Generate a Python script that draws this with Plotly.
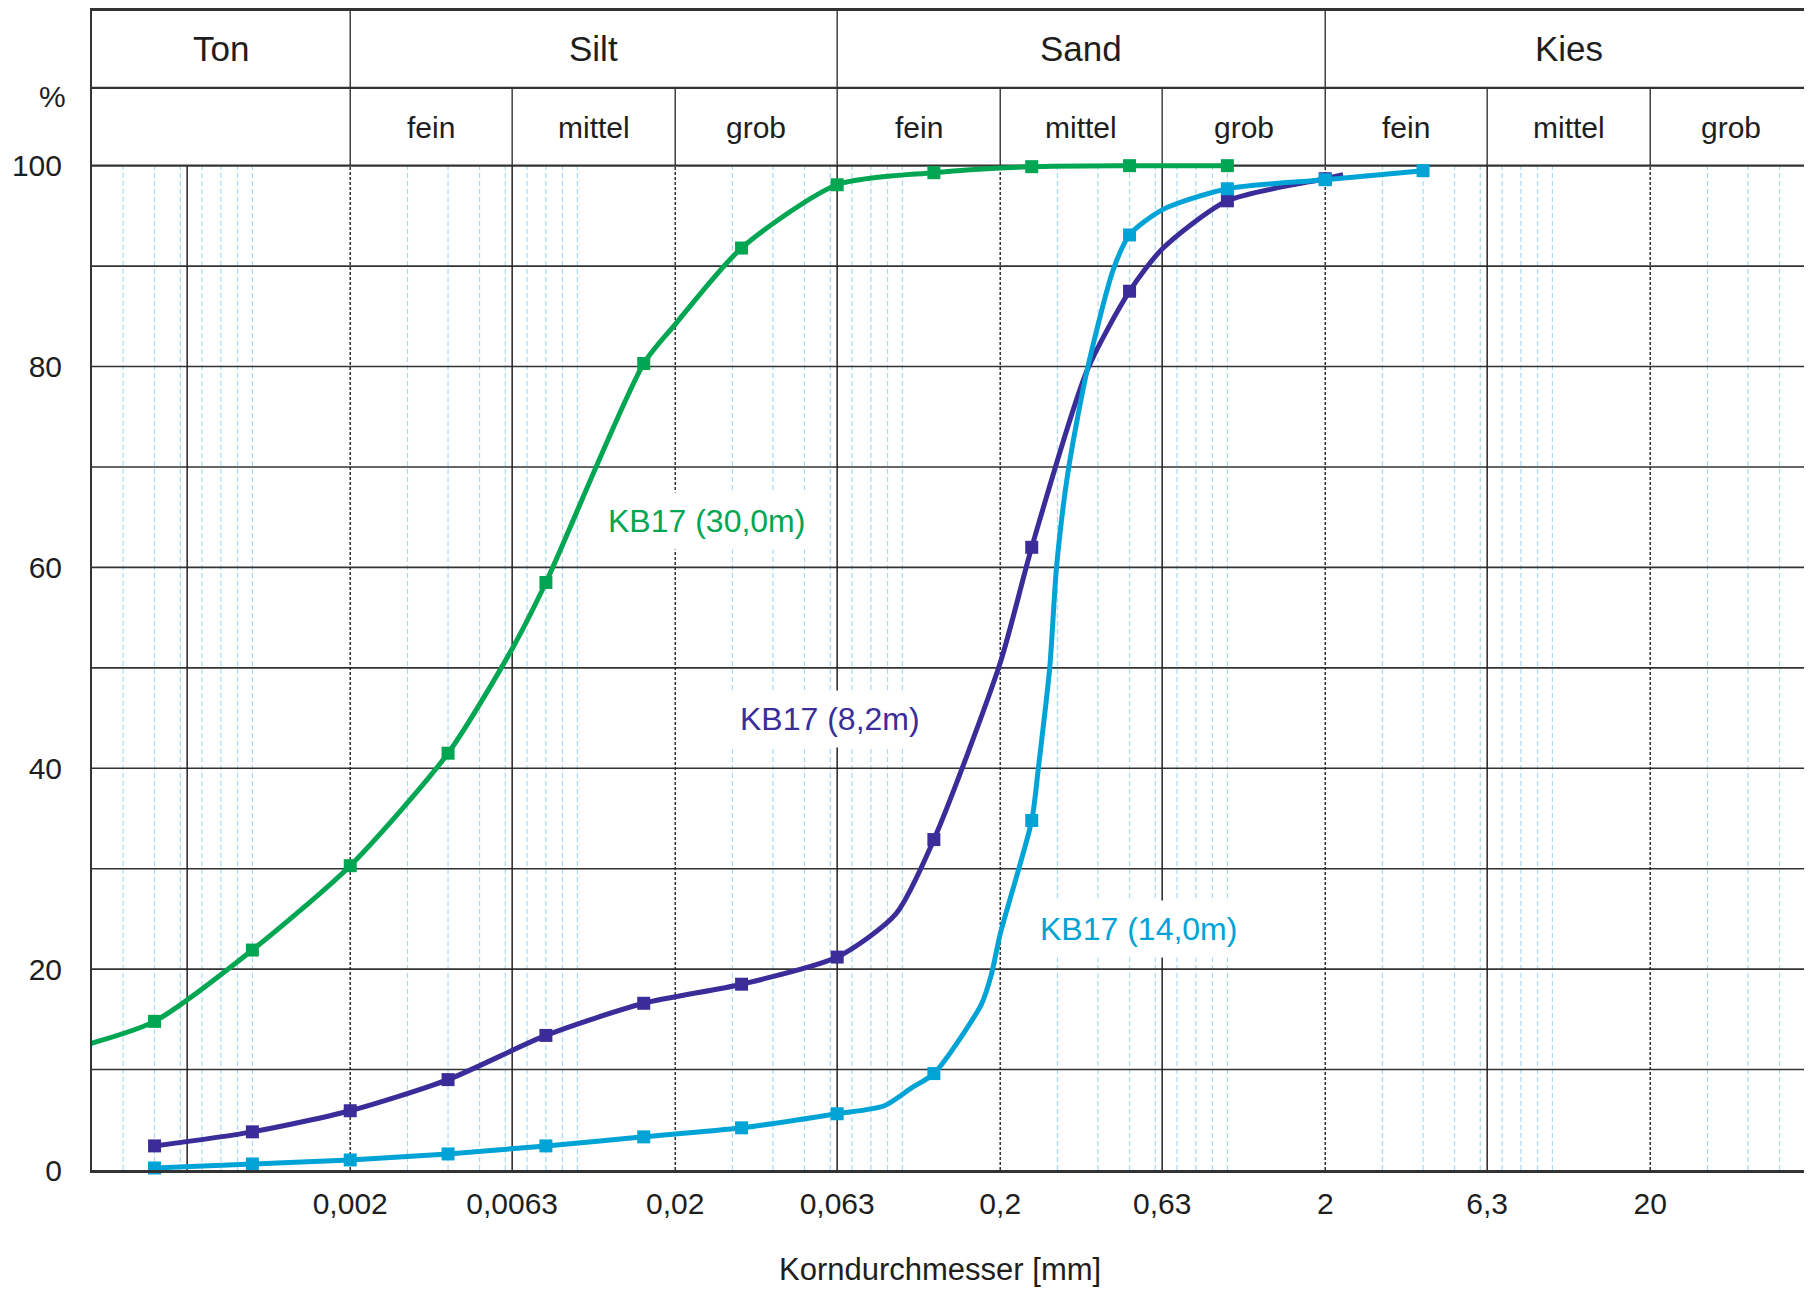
import math
import plotly.graph_objects as go

# ---------------- data ----------------
# KB17 (30,0m) - green
g_x = [0.0005, 0.001, 0.002, 0.004, 0.008, 0.016, 0.032, 0.063, 0.125, 0.25, 0.5, 1.0]
g_y = [14.8, 21.9, 30.3, 41.5, 58.5, 80.3, 91.8, 98.1, 99.3, 99.9, 100.0, 100.0]
g_cx = [0.000318, 0.0063, 0.02]          # unmarked curve points
g_cy = [12.6, 51.9, 84.2]

# KB17 (8,2m) - purple
p_x = [0.0005, 0.001, 0.002, 0.004, 0.008, 0.016, 0.032, 0.063, 0.125, 0.25, 0.5, 1.0, 2.0]
p_y = [2.4, 3.8, 5.9, 9.0, 13.4, 16.6, 18.5, 21.2, 32.9, 62.0, 87.5, 96.5, 98.7]
p_cx = [0.0955, 0.2, 0.37, 0.63, 2.27]
p_cy = [25.5, 50.5, 79.6, 91.7, 99.1]

# KB17 (14,0m) - cyan
c_x = [0.0005, 0.001, 0.002, 0.004, 0.008, 0.016, 0.032, 0.063, 0.125, 0.25, 0.5, 1.0, 2.0, 4.0]
c_y = [0.2, 0.6, 1.0, 1.6, 2.4, 3.3, 4.2, 5.6, 9.6, 34.8, 93.1, 97.7, 98.6, 99.5]
c_cx = [0.088, 0.107, 0.175, 0.188, 0.2, 0.262, 0.284, 0.298, 0.324, 0.37, 0.446, 0.63]
c_cy = [6.4, 8.2, 16.5, 19.5, 23.5, 40.0, 50.0, 60.0, 69.7, 79.6, 89.7, 95.6]

x_tickvals = [0.002, 0.0063, 0.02, 0.063, 0.2, 0.63, 2, 6.3, 20]
x_ticktext = ["0,002", "0,0063", "0,02", "0,063", "0,2", "0,63", "2", "6,3", "20"]
y_tickvals = [0, 20, 40, 60, 80, 100]

solid_major = [0.00063, 0.0063, 0.063, 0.63, 6.3]
dashed_major = [0.002, 0.02, 0.2, 2, 20]

main_classes = ["Ton", "Silt", "Sand", "Kies"]
main_bounds = [0.002, 0.063, 2]
sub_labels = ["fein", "mittel", "grob", "fein", "mittel", "grob", "fein", "mittel", "grob"]
sub_bounds = [0.002, 0.0063, 0.02, 0.063, 0.2, 0.63, 2, 6.3, 20]

labels = ["KB17 (30,0m)", "KB17 (8,2m)", "KB17 (14,0m)"]
label_x = [0.0249, 0.060, 0.532]
label_y = [64.6, 44.9, 24.0]

GREEN = "#00A651"
PURPLE = "#3A2D9A"
CYAN = "#00A3D6"
GRIDBLUE = "#A9D9F2"
TXT = "#1e1e1e"
FONT = "Liberation Sans, Arial, sans-serif"

W, H = 1804, 1282
ML, MT, MB = 84, 1, 120
PX_DEC = 325.0
XL = -3.4935
XR = [XL, XL + (W - ML) / PX_DEC]
YTOP = 115.4
HDR_MID = 107.75

xmin = 10 ** XR[0]
xmax = 10 ** XR[1]

fig = go.Figure()


def vlines(vals, y0, y1):
    xs, ys = [], []
    for v in vals:
        xs += [v, v, None]
        ys += [y0, y1, None]
    return xs, ys


def hlines(vals):
    xs, ys = [], []
    for v in vals:
        xs += [xmin, xmax, None]
        ys += [v, v, None]
    return xs, ys


# minor light-blue dashed grid
minor = []
for n in range(-4, 2):
    for k in [1, 3, 4, 5, 6, 7, 8, 9]:
        v = k * 10 ** n
        if xmin < v < xmax:
            minor.append(v)
mx, my = vlines(minor, 0, 100)
fig.add_trace(go.Scatter(x=mx, y=my, mode="lines", hoverinfo="skip",
                         line=dict(color=GRIDBLUE, width=1.2, dash="5px,3px")))

# horizontal grid
hx, hy = hlines([10, 20, 30, 40, 50, 60, 70, 80, 90])
fig.add_trace(go.Scatter(x=hx, y=hy, mode="lines", hoverinfo="skip",
                         line=dict(color="#333333", width=1.6)))
hx, hy = hlines([100, HDR_MID])
fig.add_trace(go.Scatter(x=hx, y=hy, mode="lines", hoverinfo="skip",
                         line=dict(color="#333333", width=2.4)))

# major vertical grid
sx, sy = vlines(solid_major, 0, 100)
fig.add_trace(go.Scatter(x=sx, y=sy, mode="lines", hoverinfo="skip",
                         line=dict(color="#222222", width=1.5)))
dx, dy = vlines(dashed_major, 0, 100)
fig.add_trace(go.Scatter(x=dx, y=dy, mode="lines", hoverinfo="skip",
                         line=dict(color="#222222", width=1.4, dash="3px,2px")))

# header cell borders
bx, by = vlines(sub_bounds, 100, HDR_MID)
fig.add_trace(go.Scatter(x=bx, y=by, mode="lines", hoverinfo="skip",
                         line=dict(color="#333333", width=1.4)))
bx, by = vlines(main_bounds, HDR_MID, YTOP)
fig.add_trace(go.Scatter(x=bx, y=by, mode="lines", hoverinfo="skip",
                         line=dict(color="#333333", width=1.4)))


def curve(mx_, my_, cx_, cy_):
    pts = sorted(list(zip(mx_, my_)) + list(zip(cx_, cy_)))
    return [p[0] for p in pts], [p[1] for p in pts]


for (xm, ym, xc, yc, col) in [(g_x, g_y, g_cx, g_cy, GREEN),
                              (p_x, p_y, p_cx, p_cy, PURPLE),
                              (c_x, c_y, c_cx, c_cy, CYAN)]:
    lx, ly = curve(xm, ym, xc, yc)
    fig.add_trace(go.Scatter(x=lx, y=ly, mode="lines", hoverinfo="skip",
                             line=dict(color=col, width=5, shape="spline", smoothing=0.7)))
    fig.add_trace(go.Scatter(x=xm, y=ym, mode="markers", cliponaxis=False,
                             marker=dict(symbol="square", size=13, color=col)))

annotations = []
# header texts
lo = XR[0]
hi = XR[1]
mb = [lo] + [math.log10(b) for b in main_bounds] + [hi]
for i, t in enumerate(main_classes):
    annotations.append(dict(x=(mb[i] + mb[i + 1]) / 2, y=(HDR_MID + YTOP) / 2 + 0.1, xref="x", yref="y",
                            text=t, showarrow=False, font=dict(size=35, color=TXT, family=FONT)))
sb = [math.log10(b) for b in sub_bounds] + [hi]
for i, t in enumerate(sub_labels):
    annotations.append(dict(x=(sb[i] + sb[i + 1]) / 2, y=(100 + HDR_MID) / 2 - 0.1, xref="x", yref="y",
                            text=t, showarrow=False, font=dict(size=30, color=TXT, family=FONT)))

# curve labels
for t, lxv, lyv, col in zip(labels, label_x, label_y, [GREEN, PURPLE, CYAN]):
    annotations.append(dict(x=math.log10(lxv), y=lyv, xref="x", yref="y", text=t, showarrow=False,
                            bgcolor="white", borderpad=10,
                            font=dict(size=32, color=col, family=FONT)))

# percent sign and x title
pw = W - ML
ph = H - MT - MB
annotations.append(dict(x=-40 / pw, y=106.9, xref="paper", yref="y", text="%", showarrow=False,
                        xanchor="center", font=dict(size=30, color=TXT, family=FONT)))
annotations.append(dict(x=(940 - 92) / pw, y=-100 / ph, xref="paper", yref="paper",
                        text="Korndurchmesser [mm]", showarrow=False, yanchor="middle",
                        font=dict(size=31, color=TXT, family=FONT)))

fig.update_layout(
    width=W, height=H,
    margin=dict(l=ML, r=0, t=MT, b=MB),
    paper_bgcolor="white", plot_bgcolor="white",
    showlegend=False,
    annotations=annotations,
    font=dict(family=FONT, color=TXT),
)
fig.update_xaxes(type="log", range=XR, showgrid=False, zeroline=False,
                 tickvals=x_tickvals, ticktext=x_ticktext, ticks="",
                 tickfont=dict(size=30, color=TXT, family=FONT), ticklabelstandoff=5,
                 showline=True, linecolor="#333333", linewidth=3, mirror=True)
fig.update_yaxes(range=[0, YTOP], showgrid=False, zeroline=False,
                 tickvals=y_tickvals, ticks="",
                 tickfont=dict(size=30, color=TXT, family=FONT), ticklabelstandoff=22,
                 showline=True, linecolor="#333333", linewidth=2)

fig.write_html("out.html")
